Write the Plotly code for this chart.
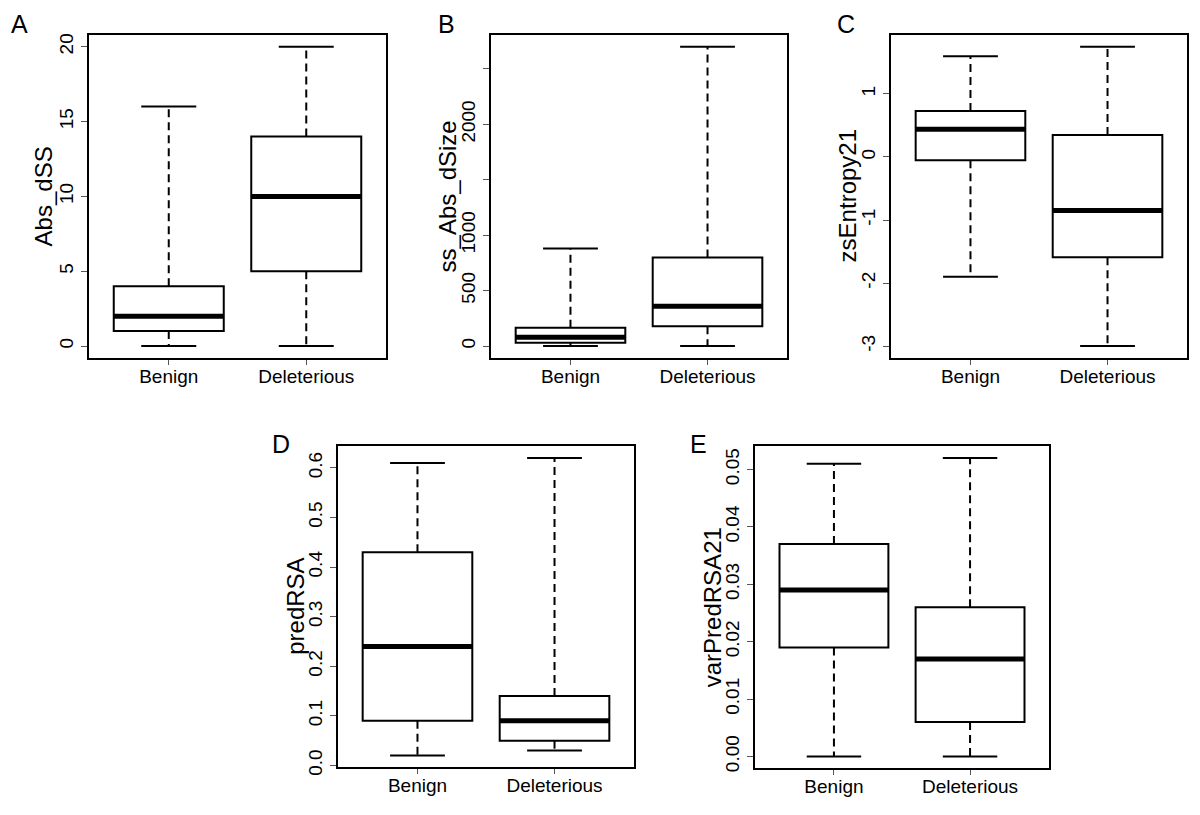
import plotly.graph_objects as go

# The page body has an 8px margin; compensate so the picture lands on the window grid.
OFF = 8
W, H = 1200 - OFF, 815 - OFF
categories = ["Benign", "Deleterious"]

# Panel data: [Benign, Deleterious]
panel_letters = ["A", "B", "C", "D", "E"]
panel_titles = ["Abs_dSS", "ss_Abs_dSize", "zsEntropy21", "predRSA", "varPredRSA21"]

lower_whisker = [[0, 0], [0, 0], [-1.9, -3.0], [0.02, 0.03], [0.0, 0.0]]
q1_vals = [[1, 5], [30, 180], [-0.05, -1.59], [0.09, 0.05], [0.019, 0.006]]
median_vals = [[2, 10], [80, 360], [0.44, -0.85], [0.24, 0.09], [0.029, 0.017]]
q3_vals = [[4, 14], [165, 800], [0.73, 0.35], [0.43, 0.14], [0.037, 0.026]]
upper_whisker = [[16, 20], [880, 2700], [1.6, 1.75], [0.61, 0.62], [0.051, 0.052]]

tick_values = [
    [0, 5, 10, 15, 20],
    [0, 500, 1000, 1500, 2000, 2500],
    [-3, -2, -1, 0, 1],
    [0.0, 0.1, 0.2, 0.3, 0.4, 0.5, 0.6],
    [0.00, 0.01, 0.02, 0.03, 0.04, 0.05],
]
tick_labels = [
    ["0", "5", "10", "15", "20"],
    ["0", "500", "1000", "", "2000", ""],
    ["-3", "-2", "-1", "0", "1"],
    ["0.0", "0.1", "0.2", "0.3", "0.4", "0.5", "0.6"],
    ["0.00", "0.01", "0.02", "0.03", "0.04", "0.05"],
]

# layout (window pixels): plot boxes (left, top, right, bottom)
boxes_px = [
    (89, 34, 386, 361),
    (491, 34, 787, 361),
    (891, 34, 1187, 361),
    (338, 450, 634, 775),
    (755, 450, 1049, 776),
]
title_x_px = [43, 447, 847, 296, 712]
letter_xy_px = [(19, 23), (446, 23), (846, 23), (281, 448), (698, 448)]

FONT = "Liberation Sans, Arial, sans-serif"


def px_x(v):
    return (v - OFF) / W


def px_y(v):
    return 1 - (v - OFF) / H


fig = go.Figure()
layout = dict(
    width=W, height=H, margin=dict(l=0, r=0, t=0, b=0),
    paper_bgcolor="white", plot_bgcolor="white", showlegend=False,
    font=dict(family=FONT, color="black", size=19),
)
annotations = []
BOXW = 0.8
CAPW = 0.4

for i in range(5):
    xa = "x" if i == 0 else f"x{i+1}"
    ya = "y" if i == 0 else f"y{i+1}"
    l, t, r, b = boxes_px[i]
    lo = min(lower_whisker[i]); hi = max(upper_whisker[i])
    ext = (hi - lo) * 0.04
    for j, cat in enumerate(categories):
        xc = j + 1
        fig.add_trace(go.Box(
            x=[xc], q1=[q1_vals[i][j]], median=[median_vals[i][j]], q3=[q3_vals[i][j]],
            lowerfence=[q1_vals[i][j]], upperfence=[q3_vals[i][j]],
            width=BOXW, fillcolor="white", line=dict(color="black", width=2),
            xaxis=xa, yaxis=ya, hoverinfo="skip", name=cat,
        ))
        fig.add_trace(go.Scatter(
            x=[xc, xc, None, xc, xc],
            y=[q3_vals[i][j], upper_whisker[i][j], None, q1_vals[i][j], lower_whisker[i][j]],
            mode="lines", line=dict(color="black", width=2, dash="8px,5px"),
            xaxis=xa, yaxis=ya, hoverinfo="skip",
        ))
        fig.add_trace(go.Scatter(
            x=[xc - CAPW / 2, xc + CAPW / 2, None, xc - CAPW / 2, xc + CAPW / 2],
            y=[upper_whisker[i][j]] * 2 + [None] + [lower_whisker[i][j]] * 2,
            mode="lines", line=dict(color="black", width=2),
            xaxis=xa, yaxis=ya, hoverinfo="skip",
        ))
        fig.add_trace(go.Scatter(
            x=[xc - BOXW / 2, xc + BOXW / 2],
            y=[median_vals[i][j]] * 2,
            mode="lines", line=dict(color="black", width=5),
            xaxis=xa, yaxis=ya, hoverinfo="skip",
        ))
    xkey = "xaxis" if i == 0 else f"xaxis{i+1}"
    ykey = "yaxis" if i == 0 else f"yaxis{i+1}"
    layout[xkey] = dict(
        domain=[px_x(l), px_x(r)], anchor=ya, range=[0.42, 2.58],
        tickvals=[1, 2], ticktext=categories, ticks="outside", ticklen=5,
        tickwidth=1, tickcolor="#555555", showline=True, linewidth=2,
        linecolor="black", mirror=True, showgrid=False, zeroline=False,
        ticklabelstandoff=-5,
        tickfont=dict(size=19, family=FONT, color="black"), fixedrange=True,
    )
    layout[ykey] = dict(
        domain=[px_y(b), px_y(t)], anchor=xa, range=[lo - ext, hi + ext],
        tickvals=tick_values[i], ticktext=tick_labels[i], tickangle=-90,
        ticks="outside", ticklen=6, tickwidth=1, tickcolor="#555555",
        showline=True, linewidth=2, linecolor="black", mirror=True,
        showgrid=False, zeroline=False,
        tickfont=dict(size=19, family=FONT, color="black"), fixedrange=True,
    )
    annotations.append(dict(
        text=panel_titles[i], x=px_x(title_x_px[i]), y=px_y((t + b) / 2),
        xref="paper", yref="paper", xanchor="center", yanchor="middle",
        textangle=-90, showarrow=False, font=dict(size=24, family=FONT, color="black"),
    ))
    lx, ly = letter_xy_px[i]
    annotations.append(dict(
        text=panel_letters[i], x=px_x(lx), y=px_y(ly),
        xref="paper", yref="paper", xanchor="center", yanchor="middle",
        showarrow=False, font=dict(size=25, family=FONT, color="black"),
    ))

layout["annotations"] = annotations
fig.update_layout(**layout)
fig.write_html("out.html")
